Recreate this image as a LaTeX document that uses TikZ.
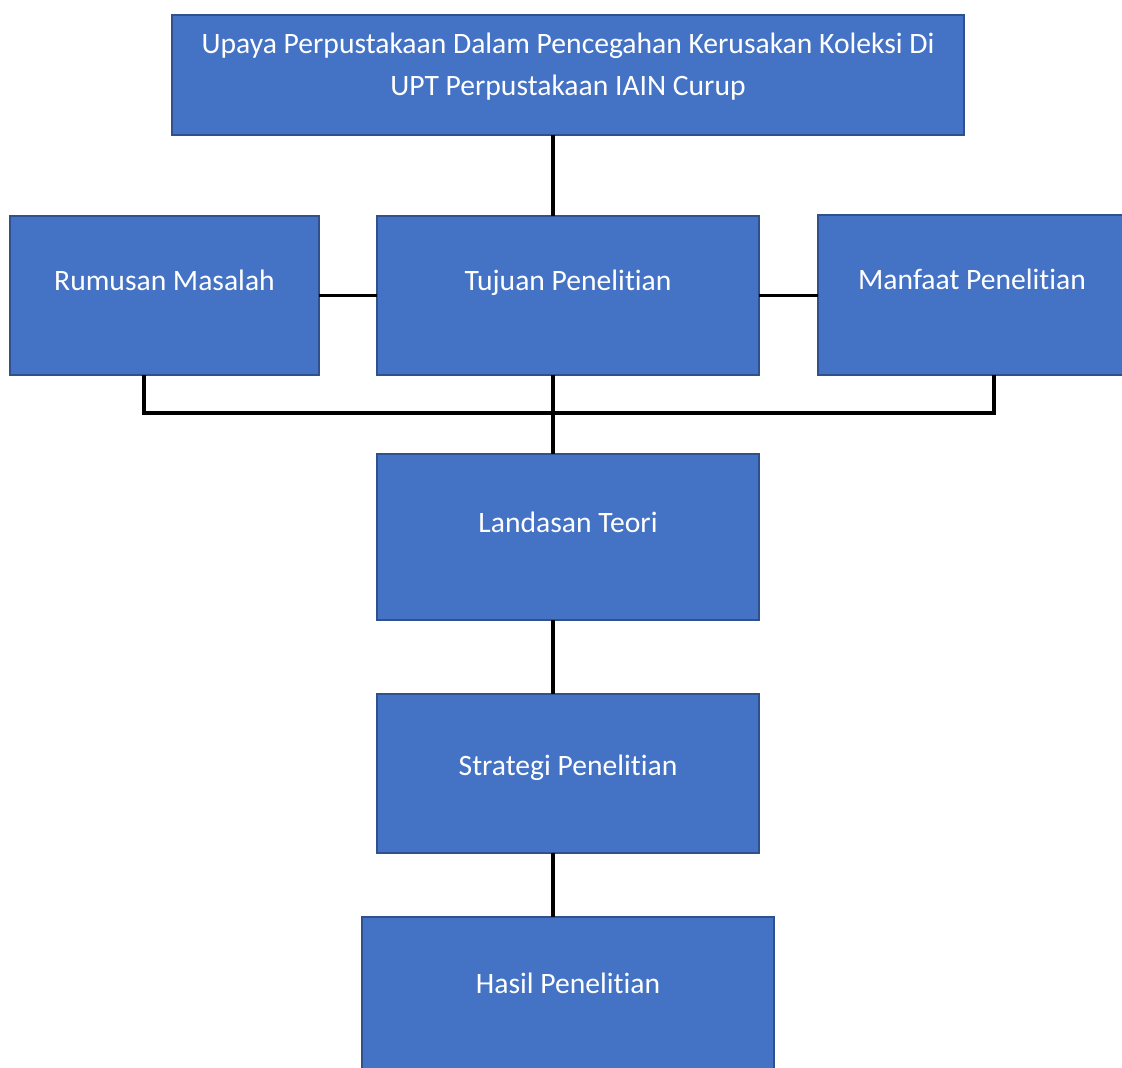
\documentclass[tikz,border=0pt]{standalone}
\usepackage{fontspec}
\setmainfont[Ligatures=NoCommon]{Carlito}
\definecolor{kotak}{HTML}{4472C4}
\definecolor{tepi}{HTML}{2F528F}
\tikzset{
  kotakbiru/.style={draw=tepi, line width=1.5pt, fill=kotak, inner sep=0pt, outer sep=0pt},
  tulisan/.style={text=white, font=\fontsize{22.2pt}{30pt}\selectfont, anchor=base, inner sep=0pt},
  garis/.style={line width=2.4pt, black}
}

\begin{document}
\begin{tikzpicture}[x=0.75pt,y=-0.75pt]
\useasboundingbox (0,0) rectangle (1122,1068);
\clip (0,0) rectangle (1122,1068);
\coordinate (spine) at (553,0);
\coordinate (kiri) at (144,413);
\coordinate (kanan) at (994,413);
\node[kotakbiru, minimum width=594pt, minimum height=90pt] (judul) at (568,75) {};
\node[kotakbiru, minimum width=231.75pt, minimum height=119.25pt] (rumusan) at (164.5,295.5) {};
\node[kotakbiru, minimum width=286.5pt, minimum height=119.25pt] (tujuan) at (568,295.5) {};
\node[kotakbiru, minimum width=231pt, minimum height=120pt] (manfaat) at (972,295) {};
\node[kotakbiru, minimum width=286.5pt, minimum height=124.5pt] (landasan) at (568,537) {};
\node[kotakbiru, minimum width=286.5pt, minimum height=119.25pt] (strategi) at (568,773.5) {};
\node[kotakbiru, minimum width=309pt, minimum height=120pt] (hasil) at (568,997) {};
\node[tulisan] (judultxta) at (568,53.5) {Upaya Perpustakaan Dalam Pencegahan Kerusakan Koleksi Di};
\node[tulisan] (judultxtb) at (568,95) {UPT Perpustakaan IAIN Curup};
\node[tulisan] (rumusantxt) at (164.5,290) {Rumusan Masalah};
\node[tulisan] (tujuantxt) at (568,290) {Tujuan Penelitian};
\node[tulisan] (manfaattxt) at (972,289) {Manfaat Penelitian};
\node[tulisan] (landasantxt) at (568,532) {Landasan Teori};
\node[tulisan] (strategitxt) at (568,775) {Strategi Penelitian};
\node[tulisan] (hasiltxt) at (568,993) {Hasil Penelitian};
\draw[garis] (judul.south -| spine) -- (tujuan.north -| spine);
\draw[garis] (rumusan.east) -- (tujuan.west);
\draw[garis] (tujuan.east) -- (manfaat.west |- tujuan.east);
\draw[garis] (rumusan.south -| kiri) -- (kiri) -- (kanan) -- (manfaat.south -| kanan);
\draw[garis] (tujuan.south -| spine) -- (landasan.north -| spine);
\draw[garis] (landasan.south -| spine) -- (strategi.north -| spine);
\draw[garis] (strategi.south -| spine) -- (hasil.north -| spine);
\end{tikzpicture}
\end{document}
